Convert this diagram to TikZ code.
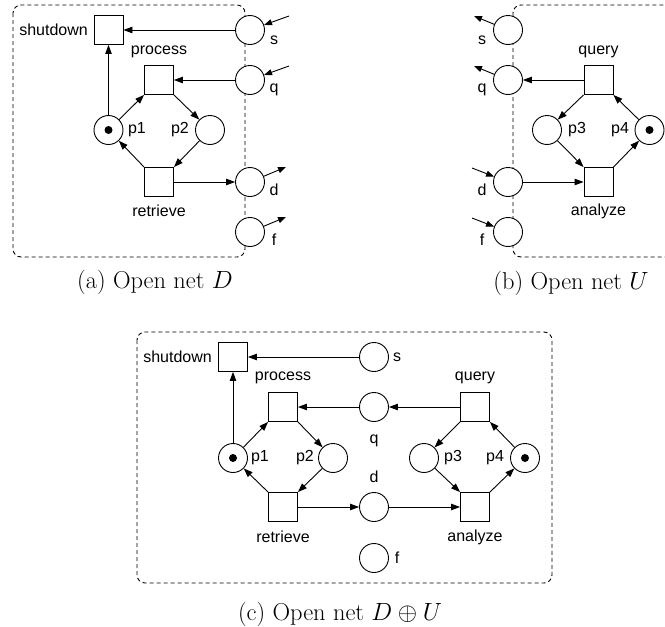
\documentclass[tikz,border=0pt]{standalone}
\usepackage{fontspec}
\newfontfamily\labfont{Liberation Sans}
\usetikzlibrary{arrows.meta}
\begin{document}
\begin{tikzpicture}[x=1pt,y=-1pt,
 place/.style={circle,draw,fill=white,minimum size=29pt,inner sep=0pt,line width=0.9pt},
 trans/.style={rectangle,draw,fill=white,minimum size=29pt,inner sep=0pt,line width=0.9pt},
 token/.style={circle,fill=black,minimum size=8pt,inner sep=0pt},
 lab/.style={font=\labfont\fontsize{16}{19}\selectfont,inner sep=0pt},
 arc/.style={-{Triangle[length=9pt,width=6.5pt]},line width=0.9pt},
 ifarc/.style={-{Triangle[length=8pt,width=6pt]},line width=0.9pt},
 netbox/.style={dash pattern=on 4pt off 3pt,line width=0.9pt,rounded corners=8pt,draw=black},
 capstyle/.style={font=\fontsize{24.4}{29}\selectfont,inner sep=0pt}]
\useasboundingbox (0,0) rectangle (665,627);

% ---------------- (a) Open net D ----------------
\draw[netbox] (13,5) rectangle (245,257);
\node[place] (as) at (250,30) {};
\node[place] (aq) at (250,80) {};
\node[place] (ad) at (250,182) {};
\node[place] (af) at (250,232) {};
\node[trans] (ashut) at (108.5,30) {};
\node[trans] (aproc) at (159,80) {};
\node[trans] (aretr) at (159,182) {};
\node[place] (ap1) at (108.5,130) {};
\node[token] (ap1t) at (ap1) {};
\node[place] (ap2) at (210,130) {};
\node[lab,anchor=east] (ashutl) at (88,30) {shutdown};
\node[lab] (aprocl) at (159,52) {process};
\node[lab] (aretrl) at (159,211) {retrieve};
\node[lab] (ap1l) at (137,130) {p1};
\node[lab] (ap2l) at (180,130) {p2};
\node[lab] (asl) at (274,40) {s};
\node[lab] (aql) at (274,90) {q};
\node[lab] (adl) at (274,190) {d};
\node[lab] (afl) at (274,240) {f};
\draw[arc] (as) -- (ashut);
\draw[arc] (aq) -- (aproc);
\draw[arc] (aretr) -- (ad);
\draw[arc] (ap1) -- (ashut);
\draw[arc] (ap1) -- (aproc.south west);
\draw[arc] (aproc.south east) -- (ap2);
\draw[arc] (ap2) -- (aretr.north east);
\draw[arc] (aretr.north west) -- (ap1);
\coordinate (asx) at (289,16);
\coordinate (aqx) at (289,66);
\coordinate (adx) at (286,167);
\coordinate (afx) at (286,217);
\draw[ifarc] (asx) -- (as);
\draw[ifarc] (aqx) -- (aq);
\draw[ifarc] (ad) -- (adx);
\draw[ifarc] (af) -- (afx);
\node[capstyle] (capa) at (155,282) {(a) Open net $D$};

% ---------------- (b) Open net U ----------------
\draw[netbox] (513,5) rectangle (720,257);
\node[place] (bs) at (508,30) {};
\node[place] (bq) at (508,80) {};
\node[place] (bd) at (508,182) {};
\node[place] (bf) at (508,232) {};
\node[trans] (bquery) at (598.5,80) {};
\node[trans] (banal) at (598.5,182) {};
\node[place] (bp3) at (547,130) {};
\node[place] (bp4) at (649.5,130) {};
\node[token] (bp4t) at (bp4) {};
\node[lab] (bqueryl) at (598.5,52) {query};
\node[lab] (banall) at (598.5,211) {analyze};
\node[lab] (bp3l) at (577,130) {p3};
\node[lab] (bp4l) at (620,130) {p4};
\node[lab] (bsl) at (482,40) {s};
\node[lab] (bql) at (482,90) {q};
\node[lab] (bdl) at (482,190) {d};
\node[lab] (bfl) at (482,240) {f};
\draw[arc] (bquery) -- (bq);
\draw[arc] (bd) -- (banal);
\draw[arc] (bquery.south west) -- (bp3);
\draw[arc] (bp3) -- (banal.north west);
\draw[arc] (banal.north east) -- (bp4);
\draw[arc] (bp4) -- (bquery.south east);
\coordinate (bsx) at (474,16);
\coordinate (bqx) at (474,66);
\coordinate (bdx) at (472,168);
\coordinate (bfx) at (472,218);
\draw[ifarc] (bs) -- (bsx);
\draw[ifarc] (bq) -- (bqx);
\draw[ifarc] (bdx) -- (bd);
\draw[ifarc] (bfx) -- (bf);
\node[capstyle] (capb) at (571,283) {(b) Open net $U$};

% ---------------- (c) Open net D + U ----------------
\draw[netbox] (137,332) rectangle (552,583);
\node[trans] (cshut) at (233,357) {};
\node[place] (cs) at (374,357) {};
\node[trans] (cproc) at (283,407) {};
\node[place] (cq) at (374,407) {};
\node[place] (cp1) at (233,458) {};
\node[token] (cp1t) at (cp1) {};
\node[place] (cp2) at (333,458) {};
\node[trans] (cretr) at (283,507) {};
\node[place] (cd) at (374,507) {};
\node[place] (cf) at (374,558) {};
\node[trans] (cquery) at (475,407) {};
\node[place] (cp3) at (424,458) {};
\node[place] (cp4) at (525,458) {};
\node[token] (cp4t) at (cp4) {};
\node[trans] (canal) at (475,507) {};
\node[lab,anchor=east] (cshutl) at (212,357) {shutdown};
\node[lab] (csl) at (397,357) {s};
\node[lab] (cprocl) at (283,378) {process};
\node[lab] (cql) at (374,441) {q};
\node[lab] (cdl) at (374,477) {d};
\node[lab] (cfl) at (397,558) {f};
\node[lab] (cp1l) at (260,458) {p1};
\node[lab] (cp2l) at (305,458) {p2};
\node[lab] (cretrl) at (283,537) {retrieve};
\node[lab] (cqueryl) at (475,378) {query};
\node[lab] (cp3l) at (453,458) {p3};
\node[lab] (cp4l) at (495,458) {p4};
\node[lab] (canall) at (475,537) {analyze};
\draw[arc] (cs) -- (cshut);
\draw[arc] (cq) -- (cproc);
\draw[arc] (cquery) -- (cq);
\draw[arc] (cretr) -- (cd);
\draw[arc] (cd) -- (canal);
\draw[arc] (cp1) -- (cshut);
\draw[arc] (cp1) -- (cproc.south west);
\draw[arc] (cproc.south east) -- (cp2);
\draw[arc] (cp2) -- (cretr.north east);
\draw[arc] (cretr.north west) -- (cp1);
\draw[arc] (cquery.south west) -- (cp3);
\draw[arc] (cp3) -- (canal.north west);
\draw[arc] (canal.north east) -- (cp4);
\draw[arc] (cp4) -- (cquery.south east);
\node[capstyle] (capc) at (340,614) {(c) Open net $D \oplus U$};
\end{tikzpicture}
\end{document}
